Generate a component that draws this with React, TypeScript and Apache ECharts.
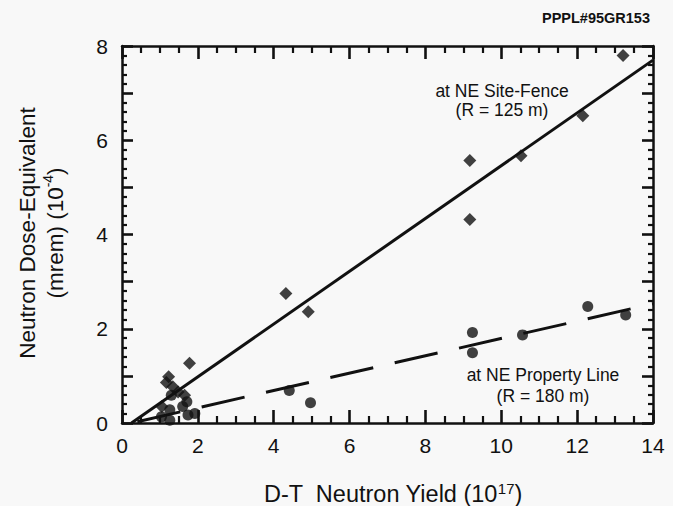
import React, { useEffect, useRef } from "react";
import * as echarts from "echarts";

// Measured points (x: D-T neutron yield, 1e17; y: dose-equivalent, 1e-4 mrem)
const siteFencePoints: number[][] = [
  [1.23, 0.98],
  [1.17, 0.86],
  [1.34, 0.77],
  [1.48, 0.66],
  [1.65, 0.59],
  [1.78, 1.27],
  [1.05, 0.35],
  [4.32, 2.75],
  [4.91, 2.36],
  [9.17, 5.57],
  [9.17, 4.32],
  [10.52, 5.67],
  [12.15, 6.52],
  [13.21, 7.8],
];

const propertyLinePoints: number[][] = [
  [1.04, 0.13],
  [1.26, 0.06],
  [1.26, 0.28],
  [1.3, 0.59],
  [1.6, 0.35],
  [1.71, 0.45],
  [1.74, 0.17],
  [1.92, 0.2],
  [4.41, 0.69],
  [4.97, 0.43],
  [9.24, 1.92],
  [9.24, 1.49],
  [10.56, 1.87],
  [12.28, 2.47],
  [13.28, 2.29],
];

const siteFenceFit: number[][] = [
  [0.25, 0],
  [14, 7.7],
];
const propertyLineFit: number[][] = [
  [0.25, 0],
  [14, 2.53],
];

// [min, max, major tick interval]
const xTicks = [0, 14, 2];
const yTicks = [0, 8, 1];
const yLabelEvery = 2;

const FONT = "'Liberation Sans', Arial, Helvetica, sans-serif";
const INK = "#111";

export default function App() {
  const ref = useRef<HTMLDivElement>(null);

  useEffect(() => {
    if (!ref.current) return;
    const chart = echarts.init(ref.current, undefined, { renderer: "svg" });

    const xAxisBase = (pos: "bottom" | "top", labels: boolean) => ({
      type: "value",
      position: pos,
      min: xTicks[0],
      max: xTicks[1],
      interval: xTicks[2],
      axisLine: { show: true, onZero: false, lineStyle: { color: INK, width: 2.5 } },
      axisTick: { show: true, inside: true, length: 13, lineStyle: { color: INK, width: 2.6 } },
      minorTick: { show: true, splitNumber: 4, length: 7, lineStyle: { color: INK, width: 2.2 } },
      splitLine: { show: false },
      minorSplitLine: { show: false },
      axisLabel: {
        show: labels,
        margin: 12,
        color: INK,
        fontSize: 21,
        fontFamily: FONT,
      },
    });

    const yAxisBase = (pos: "left" | "right", labels: boolean) => ({
      type: "value",
      position: pos,
      min: yTicks[0],
      max: yTicks[1],
      interval: yTicks[2],
      axisLine: { show: true, onZero: false, lineStyle: { color: INK, width: 2.5 } },
      axisTick: { show: true, inside: true, length: 11, lineStyle: { color: INK, width: 2.6 } },
      minorTick: { show: true, splitNumber: 5, length: 5, lineStyle: { color: INK, width: 2.2 } },
      splitLine: { show: false },
      minorSplitLine: { show: false },
      axisLabel: {
        show: labels,
        margin: 14,
        color: INK,
        fontSize: 21,
        fontFamily: FONT,
        padding: [6, 0, 0, 0],
        formatter: (v: number) => (v % yLabelEvery === 0 ? String(v) : ""),
      },
    });

    chart.setOption({
      animation: false,
      backgroundColor: "#f8f8f8",
      grid: { left: 122, top: 46, width: 531, height: 377, containLabel: false },
      xAxis: [xAxisBase("bottom", true), xAxisBase("top", false)],
      yAxis: [yAxisBase("left", true), yAxisBase("right", false)],
      series: [
        {
          type: "line",
          data: siteFenceFit,
          showSymbol: false,
          symbol: "none",
          lineStyle: { color: INK, width: 3 },
          z: 2,
        },
        {
          type: "line",
          data: propertyLineFit,
          showSymbol: false,
          symbol: "none",
          lineStyle: { color: INK, width: 3, type: [44, 22], dashOffset: 59.8 },
          z: 2,
        },
        {
          type: "scatter",
          data: siteFencePoints,
          symbol: "diamond",
          symbolSize: 13,
          itemStyle: { color: INK },
          z: 3,
        },
        {
          type: "scatter",
          data: propertyLinePoints,
          symbol: "circle",
          symbolSize: 11,
          itemStyle: { color: INK },
          z: 3,
        },
      ],
      graphic: [
        {
          type: "text",
          right: 23,
          top: 10,
          style: {
            text: "PPPL#95GR153",
            fill: INK,
            font: `bold 14.5px ${FONT}`,
          },
        },
        {
          type: "text",
          x: 502,
          y: 100,
          style: {
            text: "at NE Site-Fence\n(R = 125 m)",
            fill: INK,
            font: `17.5px ${FONT}`,
            lineHeight: 19,
            align: "center",
            verticalAlign: "middle",
          },
        },
        {
          type: "text",
          x: 543,
          y: 385,
          style: {
            text: "at NE Property Line\n(R = 180 m)",
            fill: INK,
            font: `17.5px ${FONT}`,
            lineHeight: 21,
            align: "center",
            verticalAlign: "middle",
          },
        },
        {
          type: "text",
          x: 393,
          y: 494,
          style: {
            text: "D-T  Neutron Yield (10{sup|17})",
            fill: INK,
            font: `23.5px ${FONT}`,
            align: "center",
            verticalAlign: "middle",
            rich: {
              sup: {
                fontSize: 15,
                fontFamily: FONT,
                fill: INK,
                verticalAlign: "top",
                lineHeight: 27,
              },
            },
          },
        },
        {
          type: "text",
          x: 41,
          y: 233,
          rotation: Math.PI / 2,
          style: {
            text: "Neutron Dose-Equivalent\n(mrem) (10{sup|-4})",
            fill: INK,
            font: `22.5px ${FONT}`,
            align: "center",
            verticalAlign: "middle",
            lineHeight: 28,
            rich: {
              sup: {
                fontSize: 14,
                fontFamily: FONT,
                fill: INK,
                verticalAlign: "top",
                lineHeight: 28,
              },
            },
          },
        },
      ],
    });

    return () => chart.dispose();
  }, []);

  return (
    <div
      ref={ref}
      style={{ position: "absolute", left: 0, top: 0, width: 673, height: 506 }}
    />
  );
}
